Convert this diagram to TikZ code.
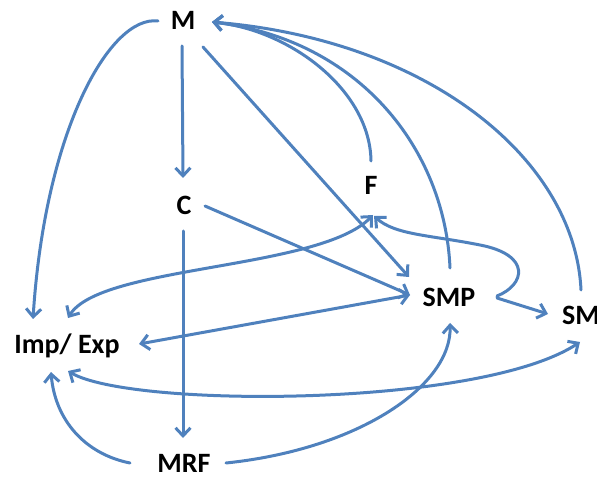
\documentclass[tikz,border=0pt]{standalone}
\usepackage{fontspec}
\setmainfont{Carlito}
\usetikzlibrary{arrows.meta,calc}
\definecolor{linkblue}{RGB}{79,129,189}
\begin{document}
\begin{tikzpicture}[x=1pt,y=-1pt,
  lbl/.style={anchor=base,inner sep=0pt,font=\fontsize{28}{30}\selectfont\bfseries},
  link/.style={draw=linkblue,line width=3pt,line cap=round},
  tip/.style={link,-{Straight Barb[length=8pt,width=15pt]}},
  both/.style={link,{Straight Barb[length=8pt,width=15pt]}-{Straight Barb[length=8pt,width=15pt]}}]
\useasboundingbox (0,0) rectangle (597,478);

% labels
\node[lbl] (M)   at (183,30)  {M};
\node[lbl] (C)   at (184,215) {C};
\node[lbl] (F)   at (371,195) {F};
\node[lbl] (SMP) at (449,306) {SMP};
\node[lbl,anchor=base west] (SM) at (562,324) {SM};
\node[lbl] (IE)  at (67,353)  {Imp/ Exp};
\node[lbl] (MRF) at (184,472) {MRF};

% straight links
\draw[tip] ($(M.base)+(-1,16)$) -- ($(C.base)+(-1,-37)$);
\draw[tip] ($(M.base)+(20,17)$) -- ($(SMP.base)+(-40,-29)$);
\draw[tip] ($(C.base)+(21,-9)$) -- ($(SMP.base)+(-39,-11)$);
\draw[tip] ($(C.base)+(-1,16)$) -- ($(MRF.base)+(-1,-34)$);
\draw[both] ($(IE.base)+(72,-9)$) -- ($(SMP.base)+(-39,-11)$);
\draw[tip] ($(SMP.base)+(48,-8)$) -- ($(SM.base west)+(-14,-10)$);

% curved links into M
\draw[tip] ($(M.base)+(-25,-9)$) .. controls (110,15) and (45,130) .. ($(IE.base)+(-34,-34)$);
\draw[tip] ($(F.base)+(0,-34)$) .. controls (370,90) and (290,30) .. ($(M.base)+(29,-8)$);
\draw[tip] ($(SMP.base)+(1,-38)$) .. controls (445,150) and (360,40) .. ($(M.base)+(29,-8)$);
\draw[tip] ($(SM.base west)+(19,-34)$) .. controls (575,160) and (430,40) .. ($(M.base)+(29,-8)$);

% links around F
\draw[both] ($(IE.base)+(1,-35)$) .. controls (100,265) and (320,270) .. ($(F.base)+(2,20)$);
\draw[tip] ($(SMP.base)+(48,-10)$) .. controls (525,285) and (532,255) .. (480,245)
  .. controls (430,235) and (395,235) .. ($(F.base)+(3,21)$);

% lower links
\draw[both] ($(IE.base)+(1,18)$) .. controls (130,408) and (480,408) .. ($(SM.base west)+(18,18)$);
\draw[tip] ($(MRF.base)+(-54,-9)$) .. controls (85,454) and (55,420) .. ($(IE.base)+(-16,19)$);
\draw[tip] ($(MRF.base)+(42,-9)$) .. controls (360,449) and (452,385) .. ($(SMP.base)+(1,17)$);
\end{tikzpicture}
\end{document}
